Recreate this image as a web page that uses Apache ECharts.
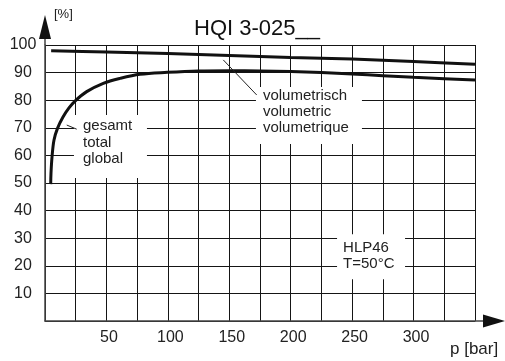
<!DOCTYPE html>
<html>
<head>
<meta charset="utf-8">
<script src="https://cdn.jsdelivr.net/npm/echarts@6/dist/echarts.min.js"></script>
<style>html,body{margin:0;padding:0;background:#fff}#c{width:505px;height:361px}</style>
</head>
<body>
<div id="c"></div>
<script>
// ---- data ----
const titleText = 'HQI 3-025__';
const yUnit = '[%]';
const xUnit = 'p [bar]';
const xTicks = [50, 100, 150, 200, 250, 300];
const yTicks = [10, 20, 30, 40, 50, 60, 70, 80, 90, 100];
const volX = [5, 50, 100, 150, 200, 250, 300, 350];
const volY = [97.9, 97.5, 96.9, 96.2, 95.5, 94.9, 94.0, 93.0];
const totX = [4.64, 4.88, 5.7, 7.33, 10.17, 14.65, 19.53, 24.42, 33.94, 47.45, 61.05, 77.33, 99.7, 125, 150, 175, 200, 225, 250, 275, 300, 325, 350];
const totY = [49.6, 53.6, 59.4, 65.6, 69.8, 73.9, 77.2, 79.7, 83.1, 86.1, 87.9, 89.4, 90.1, 90.6, 90.7, 90.6, 90.4, 90.0, 89.5, 88.9, 88.3, 87.8, 87.3];
const totalLabel = ['gesamt', 'total', 'global'];
const volLabel = ['volumetrisch', 'volumetric', 'volumetrique'];
const oilLabel = ['HLP46', 'T=50°C'];

const FONT = '"Liberation Sans", Arial, Helvetica, sans-serif';
const chart = echarts.init(document.getElementById('c'), null, {renderer: 'canvas'});

const zip = (xs, ys) => xs.map((x, i) => [x, ys[i]]);

chart.setOption({
  animation: false,
  backgroundColor: '#fff',
  title: {
    text: titleText, left: 194, top: 18, padding: 0,
    textStyle: {fontFamily: FONT, fontSize: 22, fontWeight: 'normal', color: '#111'}
  },
  grid: {left: 45, right: 30, top: 45, bottom: 40, containLabel: false},
  xAxis: {
    type: 'value', min: 0, max: 350, interval: 25,
    axisLine: {show: true, onZero: false, lineStyle: {color: '#444', width: 1.5}},
    axisTick: {show: false},
    axisLabel: {
      fontFamily: FONT, fontSize: 16, color: '#222', margin: 9, padding: [0, 0, 0, 5],
      formatter: v => xTicks.includes(v) ? String(v) : ''
    },
    splitLine: {show: true, lineStyle: {color: '#151515', width: 1}}
  },
  yAxis: {
    type: 'value', min: 0, max: 100, interval: 10,
    axisLine: {show: true, onZero: false, lineStyle: {color: '#444', width: 1.5}},
    axisTick: {show: false},
    axisLabel: {
      fontFamily: FONT, fontSize: 16, color: '#222', margin: 22, align: 'center',
      formatter: v => yTicks.includes(v) ? String(v) : ''
    },
    splitLine: {show: true, lineStyle: {color: '#151515', width: 1}}
  },
  series: [
    {type: 'line', data: zip(volX, volY), smooth: 0.3, showSymbol: false,
     lineStyle: {color: '#111', width: 3}, z: 5},
    {type: 'line', data: zip(totX, totY), smooth: 0.35, showSymbol: false,
     lineStyle: {color: '#111', width: 3}, z: 5}
  ]
});

function px(x, y) { return chart.convertToPixel({gridIndex: 0}, [x, y]); }

const g = [];
const o = px(0, 0), tr = px(350, 100);
// axis extensions and arrows
g.push({type: 'line', shape: {x1: o[0], y1: tr[1], x2: o[0], y2: tr[1] - 7}, style: {stroke: '#444', lineWidth: 1.5}, z: 50});
g.push({type: 'polygon', shape: {points: [[o[0], tr[1] - 30], [o[0] - 6, tr[1] - 6], [o[0] + 6, tr[1] - 6]]}, style: {fill: '#111'}, z: 50});
g.push({type: 'line', shape: {x1: tr[0], y1: o[1], x2: tr[0] + 9, y2: o[1]}, style: {stroke: '#444', lineWidth: 1.5}, z: 50});
g.push({type: 'polygon', shape: {points: [[tr[0] + 8, o[1] - 6.5], [tr[0] + 30, o[1]], [tr[0] + 8, o[1] + 6.5]]}, style: {fill: '#111'}, z: 50});
g.push({type: 'text', x: o[0] + 9, y: tr[1] - 31, style: {text: yUnit, font: '13px ' + FONT, fill: '#222', verticalAlign: 'middle'}, z: 50});
g.push({type: 'text', x: tr[0] - 25, y: o[1] + 28, style: {text: xUnit, font: '17px ' + FONT, fill: '#222', verticalAlign: 'middle'}, z: 50});

function annot(lines, ax, ay, box, lh, leader) {
  const p = px(ax, ay);
  g.push({type: 'rect', shape: {x: p[0] + box[0], y: p[1] + box[1], width: box[2], height: box[3]}, style: {fill: '#fff'}, z: 40});
  g.push({type: 'text', x: p[0], y: p[1], style: {text: lines.join('\n'), font: '15px ' + FONT, fill: '#222', lineHeight: lh, verticalAlign: 'top'}, z: 41});
  if (leader) {
    const a = px(leader[0], leader[1]), b = px(leader[2], leader[3]);
    g.push({type: 'line', shape: {x1: a[0], y1: a[1], x2: b[0], y2: b[1]}, style: {stroke: '#222', lineWidth: 1}, z: 42});
  }
}
annot(totalLabel, 30.9, 73.55, [-9, -3, 73, 63], 16.5, [17.7, 71.0, 25.8, 69.5]);
annot(volLabel, 177.4, 84.4, [-7, -1, 106, 57], 16, [145.1, 94.6, 172.3, 81.9]);
annot(oilLabel, 242.6, 29.3, [-6, -6, 68, 45], 15.5, null);

chart.setOption({graphic: g});
</script>
</body>
</html>
